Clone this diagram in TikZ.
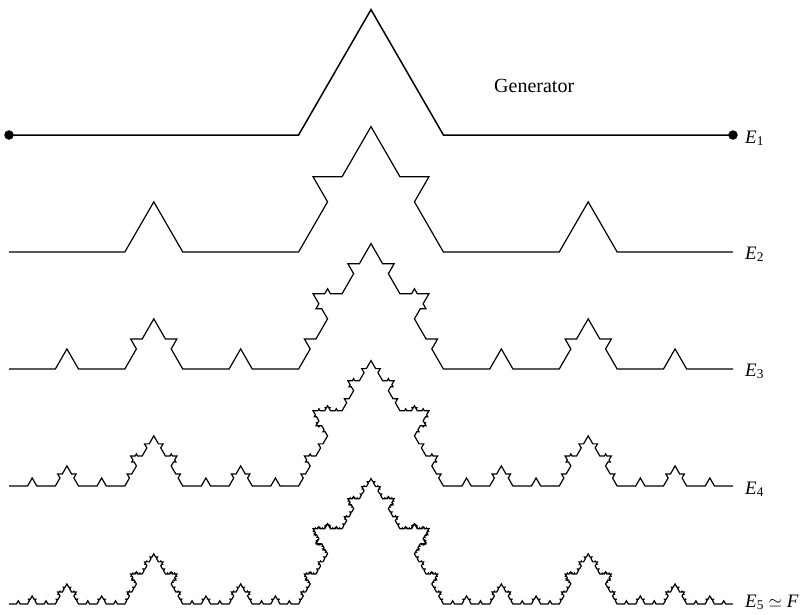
\documentclass[tikz,border=0pt]{standalone}
\usepackage{fontspec}
\setmainfont{Liberation Serif}
\makeatletter
\gdef\kochacc{}
\newcommand\kochrec[5]{%
  \ifnum#1=0
    \xdef\kochacc{\kochacc -- (#4,#5)}%
  \else
    \begingroup
    \pgfmathsetmacro\kdx{#4-#2}%
    \pgfmathsetmacro\kdy{#5-#3}%
    \pgfmathsetmacro\kax{#2+0.4*\kdx}%
    \pgfmathsetmacro\kay{#3+0.4*\kdy}%
    \pgfmathsetmacro\kbx{#2+0.5*\kdx+0.1732051*\kdy}%
    \pgfmathsetmacro\kby{#3+0.5*\kdy-0.1732051*\kdx}%
    \pgfmathsetmacro\kcx{#2+0.6*\kdx}%
    \pgfmathsetmacro\kcy{#3+0.6*\kdy}%
    \pgfmathtruncatemacro\klev{#1-1}%
    \edef\kdo{%
      \noexpand\kochrec{\klev}{#2}{#3}{\kax}{\kay}%
      \noexpand\kochrec{\klev}{\kax}{\kay}{\kbx}{\kby}%
      \noexpand\kochrec{\klev}{\kbx}{\kby}{\kcx}{\kcy}%
      \noexpand\kochrec{\klev}{\kcx}{\kcy}{#4}{#5}}%
    \kdo
    \endgroup
  \fi}
% build path of given level between (x1,y) and (x2,y)
\newcommand\kochline[5]{% style, level, x1, x2, y
  \gdef\kochacc{}%
  \kochrec{#2}{#3}{#5}{#4}{#5}%
  \edef\kdraw{\noexpand\draw[#1] (#3,#5) \kochacc;}%
  \kdraw}
\makeatother
\tikzset{
  curve/.style={draw=black, line width=1.2pt, line join=miter},
  thickcurve/.style={curve, line width=1.5pt},
  lab/.style={anchor=base west, inner sep=0pt, font=\fontsize{19}{22}\selectfont},
  genlab/.style={anchor=base west, inner sep=0pt, font=\fontsize{20}{24}\selectfont},
  enddot/.style={fill=black, circle, minimum size=9.5pt, inner sep=0pt}
}
\begin{document}
\begin{tikzpicture}[x=1pt, y=-1pt]
\useasboundingbox (0,0) rectangle (801,614);
% endpoints
\coordinate (s1) at (9,135);     \coordinate (e1) at (733,135);
% curves
\kochline{thickcurve}{1}{9}{733}{135}
\kochline{curve}{2}{9}{733}{252}
\kochline{curve}{3}{9}{733}{369}
\kochline{curve}{4}{9}{733}{486}
\kochline{curve}{5}{9}{733}{604}
% dots
\node[enddot] (d1) at (s1) {};
\node[enddot] (d2) at (e1) {};
% labels
\node[genlab] (gen) at (494,92) {Generator};
\node[lab] (l1) at (745,143) {\textit{E}\textsubscript{1}};
\node[lab] (l2) at (745,259) {\textit{E}\textsubscript{2}};
\node[lab] (l3) at (745,376) {\textit{E}\textsubscript{3}};
\node[lab] (l4) at (745,494) {\textit{E}\textsubscript{4}};
\node[lab] (l5) at (745,607) {\textit{E}\textsubscript{5} $\simeq$ \textit{F}};
\end{tikzpicture}
\end{document}
